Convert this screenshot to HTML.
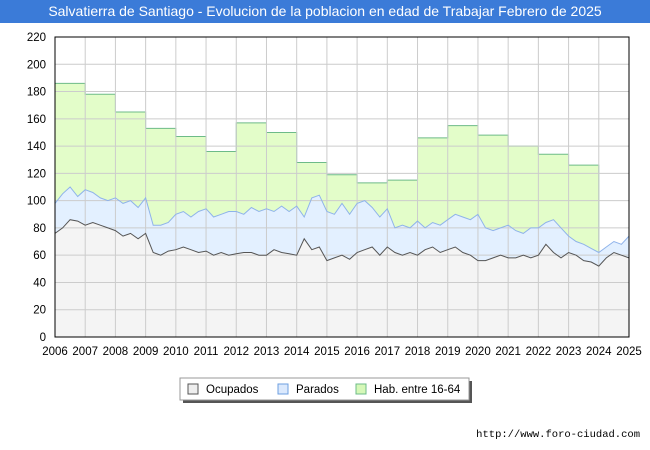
<!DOCTYPE html>
<html><head><meta charset="utf-8"><style>
body{margin:0;width:650px;height:450px;background:#fff;font-family:"Liberation Sans",sans-serif;overflow:hidden}
#title{position:absolute;left:0;top:0;width:650px;height:23px;background:#3b7bd8;color:#fff;font-size:14px;text-align:center;line-height:23px}
</style></head><body>
<div id="title">Salvatierra de Santiago - Evolucion de la poblacion en edad de Trabajar Febrero de 2025</div>
<svg id="c" width="650" height="450" style="position:absolute;left:0;top:0"></svg>
<script>
const years=[2006,2007,2008,2009,2010,2011,2012,2013,2014,2015,2016,2017,2018,2019,2020,2021,2022,2023];
const hab=[186,178,165,153,147,136,157,150,128,119,113,115,146,155,148,140,134,126];
const total=[98,105,110,103,108,106,102,100,102,98,100,95,102,82,82,84,90,92,88,92,94,88,90,92,92,90,95,92,94,92,96,92,96,88,102,104,92,90,98,90,98,100,95,88,94,80,82,80,85,80,84,82,86,90,88,86,90,80,78,80,82,78,76,80,80,84,86,80,74,70,68,65,62,66,70,68,74];
const ocup=[76,80,86,85,82,84,82,80,78,74,76,72,76,62,60,63,64,66,64,62,63,60,62,60,61,62,62,60,60,64,62,61,60,72,64,66,56,58,60,57,62,64,66,60,66,62,60,62,60,64,66,62,64,66,62,60,56,56,58,60,58,58,60,58,60,68,62,58,62,60,56,55,52,58,62,60,58];
const yTicks=[0,20,40,60,80,100,120,140,160,180,200,220];
const xTicks=[2006,2007,2008,2009,2010,2011,2012,2013,2014,2015,2016,2017,2018,2019,2020,2021,2022,2023,2024,2025];
const X0=55,X1=629,Y0=337,Y1=37;
const x=v=>X0+(v-2006)*(X1-X0)/19;
const y=v=>Y0-v*(Y0-Y1)/220;
const tq=i=>2006+i*0.25;
const svg=document.getElementById('c');const NS='http://www.w3.org/2000/svg';
function mk(t,a,p){const e=document.createElementNS(NS,t);for(const k in a)e.setAttribute(k,a[k]);(p||svg).appendChild(e);return e;}
mk('rect',{x:X0,y:Y1,width:X1-X0,height:Y0-Y1,fill:'#fff'});
// hab area
let d='M'+x(2006)+','+Y0;
hab.forEach((v,i)=>{d+=' L'+x(years[i])+','+y(v)+' L'+x(years[i]+1)+','+y(v);});
d+=' L'+x(2024)+','+Y0+' Z';
let e=mk('path',{d:d,fill:'#e3fdc9',stroke:'#6dbb88','stroke-width':1});

function line(arr){return arr.map((v,i)=>(i?'L':'M')+x(tq(i)).toFixed(1)+','+y(v).toFixed(1)).join(' ');}
const last=x(tq(total.length-1));
e=mk('path',{d:line(total)+' L'+last+','+Y0+' L'+X0+','+Y0+' Z',fill:'#e3f0ff',stroke:'none'});

e=mk('path',{d:line(ocup)+' L'+last+','+Y0+' L'+X0+','+Y0+' Z',fill:'#f4f4f4',stroke:'none'});

// grid
yTicks.forEach(t=>{mk('line',{x1:X0,x2:X1,y1:y(t),y2:y(t),stroke:'#ccc'});
 const l=mk('text',{x:46,y:y(t)+4,'text-anchor':'end','font-size':11.5,fill:'#000'});l.textContent=t;
 });
xTicks.forEach(t=>{mk('line',{x1:x(t),x2:x(t),y1:Y1,y2:Y0,stroke:'#ccc'});
 const l=mk('text',{x:x(t),y:355,'text-anchor':'middle','font-size':11.5,fill:'#000'});l.textContent=t;
 });
e=mk('path',{d:line(total),fill:'none',stroke:'#8fb3ea','stroke-width':1});

e=mk('path',{d:line(ocup),fill:'none',stroke:'#555','stroke-width':1});

mk('rect',{x:X0,y:Y1,width:X1-X0,height:Y0-Y1,fill:'none',stroke:'#000'});
// legend
const lg=mk('g',{});
mk('rect',{x:183,y:381,width:289,height:22,fill:'#555'},lg);
mk('rect',{x:180,y:378,width:289,height:22,fill:'#fff',stroke:'#999'},lg);
[['Ocupados','#eee','#555',188],['Parados','#dbe9fd','#6e9fe0',278],['Hab. entre 16-64','#d6f8b8','#6dbb88',356]].forEach(a=>{
 const g=mk('g',{},lg);
 mk('rect',{x:a[3],y:384,width:10,height:10,fill:a[1],stroke:a[2]},g);
 const t=mk('text',{x:a[3]+18,y:393,'font-size':11.5},g);t.textContent=a[0];});
const f=mk('text',{x:640,y:437,'text-anchor':'end','font-size':10.5,'font-family':'Liberation Mono, monospace'});f.textContent='http://www.foro-ciudad.com';

</script>
</body></html>
